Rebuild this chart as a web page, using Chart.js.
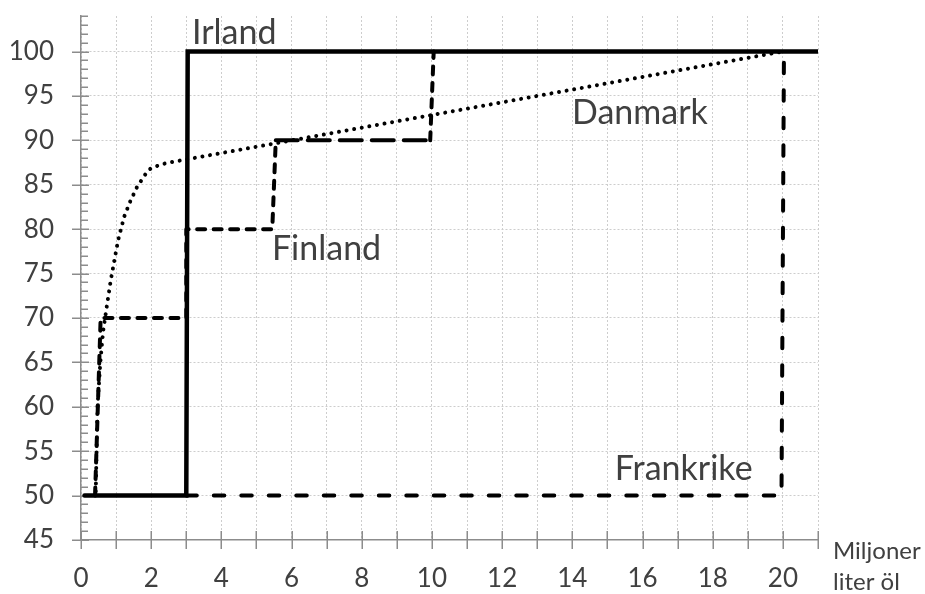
<!DOCTYPE html>
<html><head><meta charset="utf-8">
<script src="https://cdn.jsdelivr.net/npm/chart.js@4.4.1/dist/chart.umd.min.js"></script>
<style>html,body{margin:0;padding:0;background:#fff}#wrap{width:925px;height:594px}</style>
</head><body><div id="wrap"><canvas id="c" width="925" height="594"></canvas></div>
<script>
// ---- data ----
const irlandX = [0.1, 3, 3.04, 21];
const irlandY = [50, 50, 100, 100];
const finlandX = [0.4, 0.56, 3, 3, 5.45, 5.55, 9.95, 10.05];
const finlandY = [50, 70, 70, 80, 80, 90, 90, 100];
const frankrikeX = [3, 19.96, 20.03];
const frankrikeY = [50, 50, 100];
const danmarkX = [0.42, 0.47, 0.55, 0.63, 0.75, 0.85, 0.97, 1.06, 1.23, 1.40, 1.59, 1.84, 2.0, 2.44, 20];
const danmarkY = [50.5, 60, 65, 68.5, 71.7, 74.3, 76.9, 78.8, 81.4, 83.1, 84.7, 86.2, 86.9, 87.45, 100];
const seriesNames = ['Irland', 'Danmark', 'Finland', 'Frankrike'];
const xTickLabels = [0, 2, 4, 6, 8, 10, 12, 14, 16, 18, 20];
const yTickLabels = [45, 50, 55, 60, 65, 70, 75, 80, 85, 90, 95, 100];
const xAxisTitle = ['Miljoner', 'liter öl'];

// ---- label placement (data coordinates) ----
const labelAnchor = {
  Irland: [3.16, 100.8],
  Danmark: [13.99, 91.8],
  Finland: [5.44, 76.5],
  Frankrike: [15.21, 51.75]
};

const pts = (xs, ys) => xs.map((x, i) => ({x: x, y: ys[i]}));
const FONT = 'Lato, "Open Sans", sans-serif';
const TXT = '#404040';
const AXIS = '#8c8c8c';

const tickPlugin = {
  id: 'crossTicks',
  beforeDatasetsDraw(chart) {
    const {ctx, scales: {x, y}, chartArea: a} = chart;
    ctx.save();
    ctx.strokeStyle = AXIS;
    ctx.lineWidth = 1.5;
    const line = (x1, y1, x2, y2) => { ctx.beginPath(); ctx.moveTo(x1, y1); ctx.lineTo(x2, y2); ctx.stroke(); };
    x.ticks.forEach(t => {
      const px = Math.round(x.getPixelForValue(t.value)) + 0.25;
      line(px, a.bottom - 9, px, a.bottom + 9);
    });
    y.ticks.forEach(t => {
      const py = Math.round(y.getPixelForValue(t.value)) + 0.25;
      if (t.value % 5 === 0) line(a.left - 9, py, a.left + 8, py);
      else line(a.left, py, a.left + 7, py);
    });
    ctx.restore();
  }
};

const textPlugin = {
  id: 'texts',
  afterDatasetsDraw(chart) {
    const {ctx, scales: {x, y}, chartArea: a} = chart;
    ctx.save();
    ctx.fillStyle = TXT;
    ctx.textAlign = 'left';
    ctx.textBaseline = 'alphabetic';
    ctx.font = '34px ' + FONT;
    seriesNames.forEach(n => {
      const p = labelAnchor[n];
      ctx.fillText(n, x.getPixelForValue(p[0]), y.getPixelForValue(p[1]));
    });
    ctx.font = '24px ' + FONT;
    ctx.fillText(xAxisTitle[0], a.right + 15, a.bottom + 19);
    ctx.fillText(xAxisTitle[1], a.right + 15, a.bottom + 50);
    ctx.restore();
  }
};

new Chart(document.getElementById('c'), {
  type: 'scatter',
  data: {
    datasets: [
      {label: seriesNames[0], data: pts(irlandX, irlandY), showLine: true, borderColor: '#000', borderWidth: 4.5, borderCapStyle: 'round', borderJoinStyle: 'miter', pointRadius: 0, tension: 0},
      {label: seriesNames[1], data: pts(danmarkX, danmarkY), showLine: true, borderColor: '#000', borderWidth: 4, borderCapStyle: 'round', borderDash: [0.01, 7.7], pointRadius: 0, tension: 0},
      {label: seriesNames[2], data: pts(finlandX, finlandY), showLine: true, borderColor: '#000', borderWidth: 4, borderCapStyle: 'round', borderDash: [8, 8.5], borderJoinStyle: 'round', pointRadius: 0, tension: 0,
        segment: {borderDash: c => (c.p0.parsed.y === 90 && c.p1.parsed.y === 90) ? [22, 10] : undefined}},
      {label: seriesNames[3], data: pts(frankrikeX, frankrikeY), showLine: true, borderColor: '#000', borderWidth: 4, borderCapStyle: 'round', borderDash: [10.5, 17], borderJoinStyle: 'round', pointRadius: 0, tension: 0}
    ]
  },
  options: {
    responsive: false,
    animation: false,
    devicePixelRatio: 1,
    layout: {padding: {left: 0, right: 107, top: 16, bottom: 0}},
    plugins: {legend: {display: false}, tooltip: {enabled: false}},
    scales: {
      x: {
        type: 'linear', min: 0, max: 21,
        afterFit: s => { s.height = 54; s.paddingLeft = 0; s.paddingRight = 0; },
        ticks: {
          stepSize: 1, autoSkip: false, maxRotation: 0, padding: 23,
          color: TXT, font: {family: FONT, size: 26},
          callback: v => xTickLabels.includes(v) ? String(v) : ''
        },
        grid: {drawTicks: false, color: '#cdcdcd', lineWidth: 1},
        border: {display: true, color: AXIS, width: 1.5, dash: [2, 2]}
      },
      y: {
        type: 'linear', min: 45, max: 104,
        afterFit: s => { s.width = 81; s.paddingTop = 0; s.paddingBottom = 0; },
        ticks: {
          stepSize: 1, autoSkip: false, padding: 27,
          color: TXT, font: {family: FONT, size: 26},
          callback: v => yTickLabels.includes(v) ? String(v) : ''
        },
        grid: {
          drawTicks: false, lineWidth: 1,
          color: c => (c.tick && c.tick.value % 5 === 0 && c.tick.value !== 45) ? '#cdcdcd' : 'rgba(0,0,0,0)'
        },
        border: {display: true, color: AXIS, width: 1.5, dash: [2, 2]}
      }
    }
  },
  plugins: [tickPlugin, textPlugin]
});
</script>
</body></html>
